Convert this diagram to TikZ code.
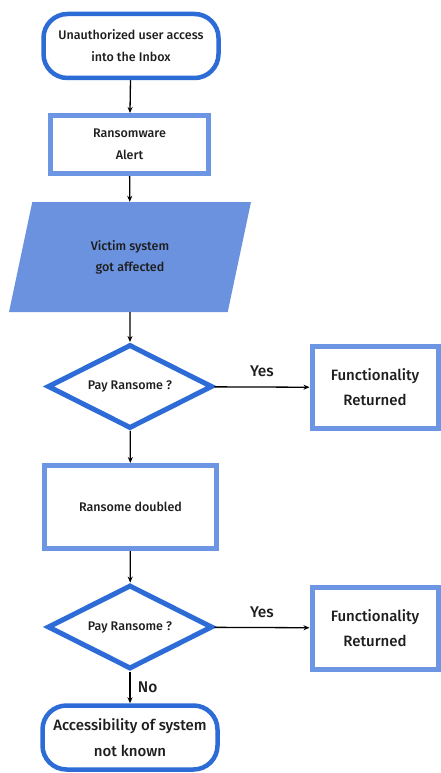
\documentclass[tikz,border=0pt]{standalone}
\usepackage{fontspec}
\setmainfont{Fira Sans}[UprightFont={* Medium}]
\usetikzlibrary{shapes.geometric,arrows.meta}
\definecolor{termblue}{RGB}{45,108,214}
\definecolor{boxblue}{RGB}{108,150,228}
\definecolor{ioblue}{RGB}{106,146,222}
\definecolor{txt}{RGB}{30,30,30}
\tikzset{
  terminal/.style={draw=termblue,line width=4.5pt,rounded corners=24pt,minimum width=175pt,minimum height=64pt,align=center,text=txt,font=\fontsize{12.5}{22}\selectfont},
  process/.style={draw=boxblue,line width=5pt,align=center,text=txt,font=\fontsize{12.5}{22}\selectfont},
  result/.style={process,minimum width=126pt,minimum height=82pt,font=\fontsize{15}{25}\selectfont},
  decision/.style={diamond,shape aspect=2,draw=termblue,line width=5pt,inner sep=0pt,minimum width=165pt,minimum height=84pt,text=txt,font=\fontsize{12.5}{15}\selectfont},
  flow/.style={line width=1.3pt,-{Stealth[length=6pt,width=5pt]}},
  answer/.style={text=txt,font=\fontsize{15.5}{18}\selectfont}
}
\begin{document}
\begin{tikzpicture}[x=1pt,y=-1pt]
  \useasboundingbox[fill=white] (0,0) rectangle (440,773);
  % main column
  \node[terminal] (start) at (131,46) {Unauthorized user access\\into the Inbox};
  \node[process,minimum width=158pt,minimum height=58pt] (alert) at (129.5,144.5) {Ransomware\\Alert};
  \node[trapezium,trapezium left angle=60,trapezium right angle=120,trapezium stretches body,
        fill=ioblue,minimum width=242pt,minimum height=110pt,align=center,text=txt,
        font=\fontsize{12.5}{21}\selectfont] (victim) at (130,257) {Victim system\\got affected};
  \node[decision] (pay1) at (130,386.5) {Pay Ransome ?};
  \node[process,minimum width=172pt,minimum height=83pt] (doubled) at (130.5,507) {Ransome doubled};
  \node[decision] (pay2) at (130,627) {Pay Ransome ?};
  \node[terminal,font=\fontsize{15}{26}\selectfont] (unknown) at (130,737.5) {Accessibility of system\\not known};
  % right column
  \node[result] (back1) at (375,387.5) {Functionality\\Returned};
  \node[result] (back2) at (375,628) {Functionality\\Returned};
  %
  \draw[flow] (start) -- (alert);
  \draw[flow] (alert) -- (victim);
  \draw[flow] (victim) -- (pay1);
  \draw[flow] (pay1) -- (doubled);
  \draw[flow] (doubled) -- (pay2);
  \draw[flow] (pay2) -- node[answer,right=4pt]{No} (unknown);
  \draw[flow] (pay1) -- node[answer,above=6pt]{Yes} (back1);
  \draw[flow] (pay2) -- node[answer,above=6pt]{Yes} (back2);
\end{tikzpicture}
\end{document}
